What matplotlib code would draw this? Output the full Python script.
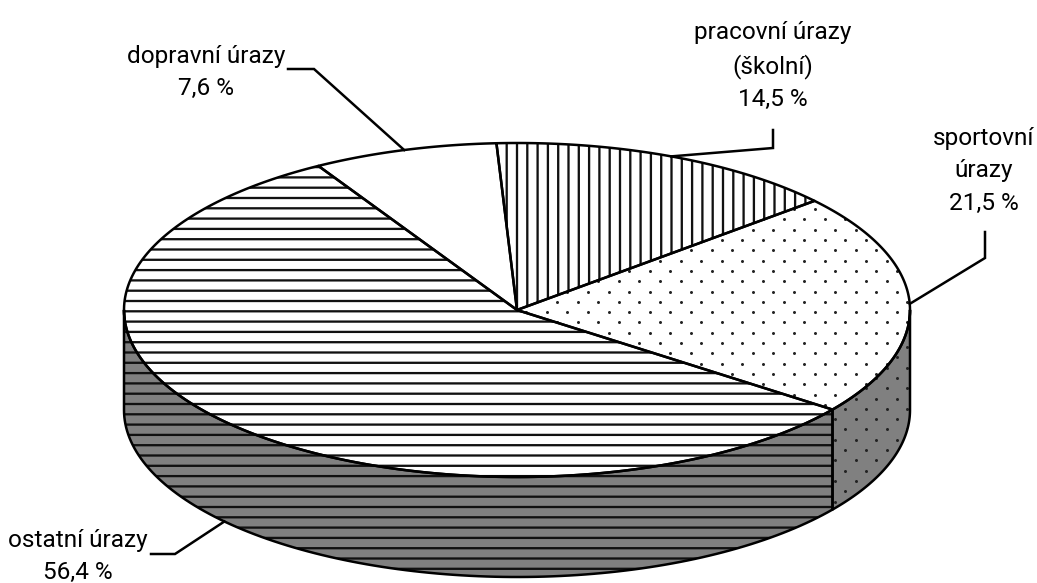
import numpy as np
import matplotlib
matplotlib.use("Agg")
import matplotlib.pyplot as plt
from matplotlib.patches import Polygon

DPI = 100
pt = 72 / DPI  # one pixel in points

plt.rcParams['font.family'] = ['Roboto', 'Liberation Sans', 'DejaVu Sans']

# data
labels = ['pracovní úrazy\n(školní)\n14,5 %', 'sportovní\núrazy\n21,5 %', 'ostatní úrazy\n56,4 %', 'dopravní úrazy\n7,6 %']
values = [14.5, 21.5, 56.4, 7.6]
textures = ['vert', 'dots', 'horiz', '']

# layout in pixels
cx, cy, rx, ry, depth = 517, 310, 393, 167, 100
start = 93
lw = 2.5 * pt
step = 10.3
label_pos = [(773, 66), (984, 171), (78, 556), (206, 72)]
elbows = [[(773, 130), (773, 148)], [(985, 232), (985, 258)], [(151, 554), (175, 554)], [(288, 69), (314, 69)]]


def rim(a, drop=0):
    a = np.radians(a)
    return np.column_stack([cx + rx * np.cos(a), cy - ry * np.sin(a) + drop])


def add_texture(patch, tex, yoff):
    if tex == 'dots':
        cols, rows = np.meshgrid(np.arange(-80, 30), np.arange(-40, 30))
        keep = (cols + rows) % 2 == 0
        art = ax.scatter(752.7 + cols[keep] * step, yoff + rows[keep] * step, s=(3.0 * pt) ** 2,
                         c='#222222', linewidths=0, zorder=3)
    elif tex == 'horiz':
        art = ax.hlines(311.3 + np.arange(-20, 30) * step, 0, 1037, color='#111111', lw=2.3 * pt, zorder=3)
    elif tex == 'vert':
        art = ax.vlines(506.7 + np.arange(-50, 55) * step, 0, 583, color='#111111', lw=2.3 * pt, zorder=3)
    else:
        return
    art.set_snap(False)
    art.set_clip_path(patch)


def add_shape(pts, face, tex, yoff=332.7):
    patch = Polygon(pts, closed=True, facecolor=face, edgecolor='none', zorder=2)
    ax.add_patch(patch)
    add_texture(patch, tex, yoff)
    ax.add_patch(Polygon(pts, closed=True, fill=False, edgecolor='black', linewidth=lw, joinstyle='round', zorder=4))


fig = plt.figure(figsize=(1037 / DPI, 583 / DPI), dpi=DPI)
ax = fig.add_axes([0, 0, 1, 1])
ax.set_xlim(0, 1037)
ax.set_ylim(583, 0)
ax.axis('off')

sweep = np.array(values) / sum(values) * 360
ends = start - np.cumsum(sweep)
begins = ends + sweep

# side wall, front half only
for a0, a1, tex in zip(begins, ends, textures):
    for shift in (0, -360):
        lo, hi = max(a1 + shift, -180), min(a0 + shift, 0)
        if hi > lo:
            arc = np.linspace(hi, lo, 120)
            add_shape(np.vstack([rim(arc), rim(arc[::-1], depth)]), '#808080', tex, 336.7)

# top
for a0, a1, tex in zip(begins, ends, textures):
    arc = np.linspace(a0, a1, 200)
    add_shape(np.vstack([[(cx, cy)], rim(arc)]), 'white', tex)

# labels and leaders
for txt, pos, elbow, a0, a1 in zip(labels, label_pos, elbows, begins, ends):
    mid = (a0 + a1) / 2
    drop = depth if np.sin(np.radians(mid)) < -0.1 else 0
    pts = np.vstack([elbow, rim(mid, drop)])
    ax.plot(pts[:, 0], pts[:, 1], color='black', lw=lw, solid_joinstyle='miter', zorder=5)
    ax.text(pos[0], pos[1], txt, ha='center', va='center', fontsize=24.4 * pt, linespacing=1.5, color='black', zorder=6)

fig.savefig('out.png', dpi=DPI)
